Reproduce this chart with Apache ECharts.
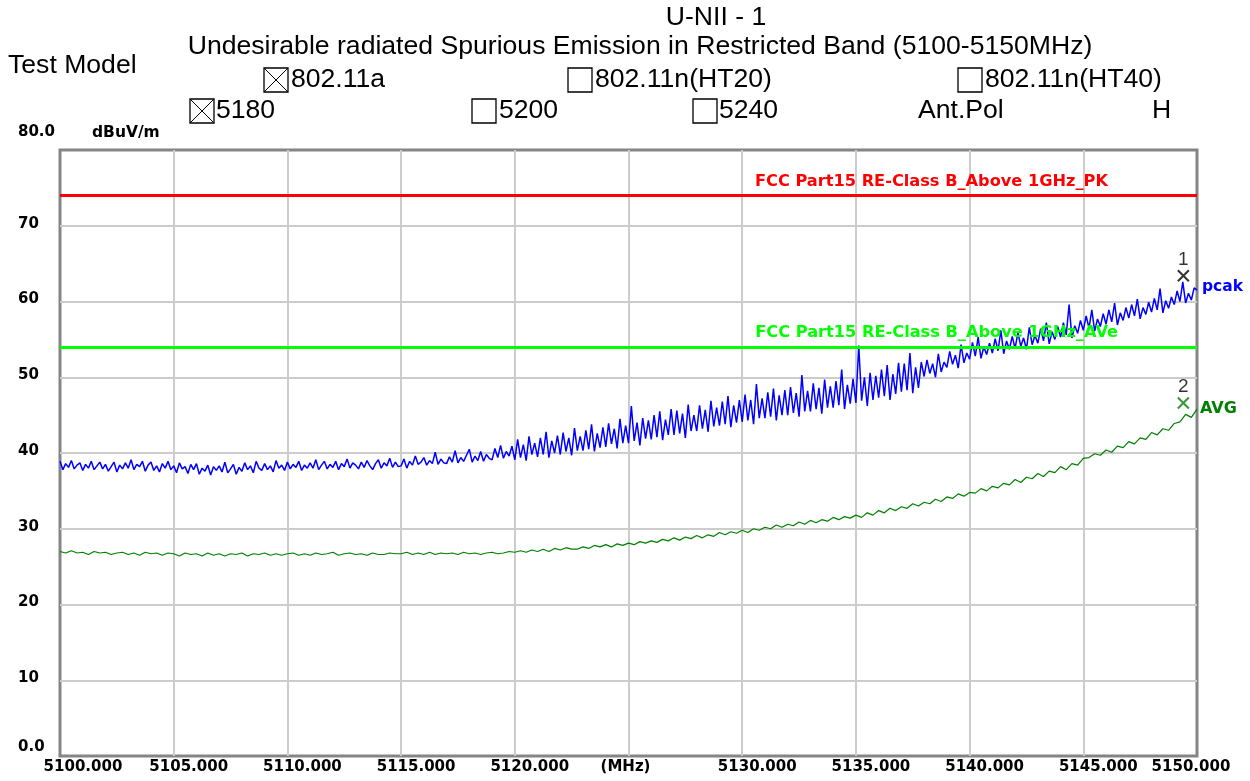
<!DOCTYPE html>
<html><head><meta charset="utf-8">
<script src="https://cdn.jsdelivr.net/npm/echarts@6/dist/echarts.min.js"></script>
<style>html,body{margin:0;padding:0;background:#fff}#c{width:1250px;height:781px}</style>
</head><body><div id="c"></div>
<script>
// ---- data ----
const titleLine1 = 'U-NII - 1';
const titleLine2 = 'Undesirable radiated Spurious Emission in Restricted Band (5100-5150MHz)';
const yUnit = 'dBuV/m';
const freqMin = 5100, freqMax = 5150, freqInterval = 5;
const levelMin = 0, levelMax = 80, levelInterval = 10;

// peak trace, one row per MHz (8 readings, 0.125 MHz apart)
const peakStart = 5100, peakStep = 0.125;
const peakValues = [
38.9,37.8,38.6,38.1,39.0,37.9,38.4,38.7,
37.7,38.5,38.0,38.9,37.8,38.3,38.8,37.9,
38.5,37.6,38.2,38.8,37.5,38.4,37.9,38.7,
38.0,39.1,37.8,38.5,38.2,38.9,37.6,38.4,
38.8,37.7,38.3,37.5,38.6,38.0,38.9,37.8,
38.3,37.4,38.7,37.9,38.2,37.3,38.5,37.8,
38.6,37.2,38.0,37.6,38.4,37.1,38.2,37.7,
38.3,37.5,38.8,37.4,37.9,38.5,37.2,38.1,
37.6,38.7,37.8,38.3,37.4,38.9,38.0,37.7,
38.6,37.8,38.3,37.5,39.0,38.0,38.4,37.7,
38.8,37.9,38.5,38.1,38.9,37.7,38.4,38.0,
38.7,38.0,39.1,37.8,38.4,38.9,37.9,38.5,
38.1,38.9,37.8,38.6,38.2,39.2,38.0,38.7,
38.4,37.9,38.8,38.1,39.0,38.3,37.8,38.6,
39.1,38.0,38.7,38.3,39.3,38.1,38.8,38.2,
38.3,39.2,38.0,38.9,38.4,39.6,38.5,38.8,
39.4,38.4,39.0,38.6,40.1,38.5,39.2,38.7,
38.6,39.5,38.8,40.3,38.7,39.4,38.9,39.7,
40.5,38.8,39.6,39.0,40.2,38.9,39.8,39.3,
39.1,40.6,39.4,41.0,39.3,40.2,39.6,40.9,
39.1,41.8,39.4,41.1,39.0,42.2,39.8,41.3,
39.5,42.0,39.8,42.8,39.4,41.6,40.0,42.3,
39.8,42.7,40.2,42.0,39.7,43.3,40.3,42.2,
40.3,43.0,40.5,43.8,40.2,42.6,40.7,43.4,
40.8,43.9,41.2,43.2,40.6,44.5,41.3,43.6,
41.3,46.2,41.6,44.0,41.0,44.6,41.9,44.3,
41.8,45.0,42.1,45.5,41.7,44.4,42.4,45.8,
42.4,45.6,42.6,45.2,42.0,46.4,42.9,45.0,
42.9,46.3,43.2,45.7,42.8,46.9,43.5,46.0,
43.6,46.8,43.8,47.5,43.4,46.3,44.0,47.0,
44.1,47.7,44.3,47.0,43.8,49.1,44.6,47.2,
44.6,48.0,44.8,48.5,44.3,47.6,45.0,48.3,
45.0,48.7,45.3,47.9,44.8,50.3,45.5,48.2,
45.5,49.2,45.8,48.6,45.2,49.7,46.0,48.8,
46.0,49.5,46.3,51.0,45.8,49.0,46.5,49.8,
46.6,54.2,46.9,50.0,46.2,50.6,47.0,50.2,
47.3,51.0,47.5,51.6,47.0,50.4,47.8,51.9,
48.1,51.8,48.3,53.2,47.9,51.3,48.6,52.0,
50.1,52.3,50.5,51.8,50.0,53.1,50.7,52.0,
51.3,53.4,51.7,52.9,51.2,54.3,51.9,53.2,
52.4,54.6,52.8,55.3,52.5,54.0,53.0,54.5,
53.2,55.1,53.5,56.2,53.1,54.8,53.7,55.4,
53.8,55.9,54.1,55.2,53.7,56.6,54.3,55.5,
54.5,56.4,54.8,57.2,54.4,56.0,55.0,56.7,
55.3,57.2,55.6,59.6,55.2,56.8,55.8,57.5,
56.2,58.1,56.5,58.9,56.1,57.7,56.7,58.4,
57.0,58.9,57.3,59.8,56.9,58.5,57.5,59.2,
57.8,59.6,58.1,60.3,57.7,59.2,58.3,59.9,
58.6,60.4,58.9,61.7,58.5,60.1,59.1,60.6,
59.6,61.4,60.0,62.6,59.8,61.1,60.2,61.8,
61.5
];

// average trace, one row per 5 MHz (20 readings, 0.25 MHz apart)
const avgStart = 5100, avgStep = 0.25;
const avgValues = [
27.0,26.8,27.1,26.8,26.9,26.6,27.0,26.8,26.9,26.6,26.8,26.9,26.6,26.8,26.5,26.9,26.7,26.8,26.5,26.8,
26.7,26.4,26.8,26.6,26.7,26.4,26.8,26.5,26.7,26.4,26.7,26.6,26.8,26.4,26.7,26.6,26.8,26.5,26.7,26.5,
26.7,26.8,26.5,26.7,26.5,26.8,26.6,26.7,26.9,26.5,26.7,26.8,26.6,26.7,26.5,26.8,26.6,26.6,26.8,26.7,
26.7,26.9,26.6,26.8,26.6,26.9,26.6,26.8,26.7,26.8,26.6,26.9,26.7,26.8,26.6,26.8,26.9,26.7,26.8,27.0,
26.9,27.1,26.9,27.2,27.0,27.3,27.0,27.4,27.2,27.5,27.3,27.3,27.6,27.4,27.8,27.6,27.9,27.6,28.0,27.8,
28.1,27.9,28.3,28.1,28.4,28.2,28.6,28.4,28.8,28.5,28.9,28.7,29.1,28.8,29.2,29.0,29.5,29.2,29.6,29.4,
29.8,29.5,30.0,29.8,30.2,30.0,30.5,30.2,30.6,30.4,30.9,30.6,31.1,30.8,31.2,31.0,31.5,31.2,31.6,31.4,
31.8,31.5,32.1,31.8,32.4,32.1,32.7,32.4,32.9,32.7,33.3,33.0,33.5,33.3,33.9,33.6,34.2,34.0,34.6,34.3,
34.8,34.7,35.3,35.0,35.6,35.4,36.0,35.8,36.5,36.1,36.8,36.6,37.3,36.9,37.6,37.4,38.2,37.8,38.6,38.4,
39.3,39.4,39.9,39.7,40.4,40.1,40.9,40.7,41.5,41.2,42.0,41.8,42.7,42.4,43.2,43.0,43.9,44.1,45.1,44.7,
45.8
];

const limitNames = ['FCC Part15 RE-Class B_Above 1GHz_PK', 'FCC Part15 RE-Class B_Above 1GHz_AVe'];
const limitValues = [74, 54];
const markerNames = ['1', '2'];
const markerFreqs = [5149.4, 5149.4];
const markerValues = [63.4, 46.6];
const traceNames = ['pcak', 'AVG'];

// ---- build ----
const peakData = peakValues.map((v, i) => [peakStart + i * peakStep, v]);
const avgData = avgValues.map((v, i) => [avgStart + i * avgStep, v]);

const HF = 'Liberation Sans, Arial, sans-serif';
const BF = 'DejaVu Sans, sans-serif';

function txt(text, x, y, align) {
  return { type: 'text', x: x, y: y, style: { text: text, font: '26.6px ' + HF, fill: '#000', textAlign: align || 'left', textVerticalAlign: 'middle' } };
}
function box(x, y, checked) {
  const els = [{ type: 'rect', shape: { x: x, y: y, width: 24, height: 24 }, style: { fill: 'none', stroke: '#000', lineWidth: 1.3 } }];
  if (checked) {
    els.push({ type: 'line', shape: { x1: x, y1: y, x2: x + 24, y2: y + 24 }, style: { stroke: '#000', lineWidth: 1 } });
    els.push({ type: 'line', shape: { x1: x + 24, y1: y, x2: x, y2: y + 24 }, style: { stroke: '#000', lineWidth: 1 } });
  }
  return els;
}

const graphics = [
  txt(titleLine1, 716, 18, 'center'),
  txt(titleLine2, 640, 47, 'center'),
  txt('Test Model', 8, 66),
  ...box(264, 68, true), txt('802.11a', 291, 80),
  ...box(568, 68, false), txt('802.11n(HT20)', 595, 80),
  ...box(958, 68, false), txt('802.11n(HT40)', 985, 80),
  ...box(190, 99, true), txt('5180', 216, 111),
  ...box(472, 99, false), txt('5200', 499, 111),
  ...box(693, 99, false), txt('5240', 719, 111),
  txt('Ant.Pol', 918, 111),
  txt('H', 1152, 111),
  { type: 'text', x: 92, y: 133, style: { text: yUnit, font: 'bold 15.5px ' + BF, fill: '#000', textAlign: 'left', textVerticalAlign: 'middle' } }
];

const chart = echarts.init(document.getElementById('c'), null, { renderer: 'canvas' });
chart.setOption({
  animation: false,
  backgroundColor: '#fff',
  graphic: graphics,
  grid: { left: 60, right: 53, top: 150, bottom: 25, show: true, borderColor: '#858585', borderWidth: 3, backgroundColor: 'transparent', z: 0 },
  xAxis: {
    type: 'value', min: freqMin, max: freqMax, interval: freqInterval,
    axisLine: { show: false }, axisTick: { show: false },
    splitLine: { show: true, showMinLine: false, showMaxLine: false, lineStyle: { color: '#cccccc', width: 2 } },
    axisLabel: {
      showMinLabel: true, showMaxLabel: true, margin: 4,
      fontFamily: BF, fontWeight: 'bold', fontSize: 15, color: '#000',
      formatter: function (v) {
        if (v === 5125) return '{m|(MHz)}';
        if (v === freqMin) return '{a|' + v.toFixed(3) + '}';
        if (v === freqMax) return '{e|' + v.toFixed(3) + '}';
        return '{n|' + v.toFixed(3) + '}';
      },
      rich: {
        n: { fontFamily: BF, fontWeight: 'bold', fontSize: 15, color: '#000', padding: [0, 0, 0, 30] },
        a: { fontFamily: BF, fontWeight: 'bold', fontSize: 15, color: '#000', padding: [0, 0, 0, 46] },
        e: { fontFamily: BF, fontWeight: 'bold', fontSize: 15, color: '#000', padding: [0, 12, 0, 0] },
        m: { fontFamily: BF, fontWeight: 'bold', fontSize: 15, color: '#000', padding: [0, 6, 0, 0] }
      }
    }
  },
  yAxis: {
    type: 'value', min: levelMin, max: levelMax, interval: levelInterval,
    axisLine: { show: false }, axisTick: { show: false },
    splitLine: { show: true, showMinLine: false, showMaxLine: false, lineStyle: { color: '#cccccc', width: 2 } },
    axisLabel: {
      showMinLabel: true, showMaxLabel: true, align: 'left', margin: 42,
      fontFamily: BF, fontWeight: 'bold', fontSize: 15, color: '#000',
      formatter: function (v) {
        if (v === levelMax) return '{t|' + v.toFixed(1) + '}';
        if (v === levelMin) return '{b|' + v.toFixed(1) + '}';
        return '{n|' + v + '}';
      },
      rich: {
        n: { fontFamily: BF, fontWeight: 'bold', fontSize: 15, color: '#000', padding: [0, 0, 4, 0] },
        t: { fontFamily: BF, fontWeight: 'bold', fontSize: 15, color: '#000', padding: [0, 0, 36, 0] },
        b: { fontFamily: BF, fontWeight: 'bold', fontSize: 15, color: '#000', padding: [0, 0, 18, 0] }
      }
    }
  },
  series: [
    {
      name: traceNames[0], type: 'line', data: peakData, showSymbol: false, symbol: 'none',
      lineStyle: { color: '#0000ff', width: 1.5 }, itemStyle: { color: '#0000ff' },
      endLabel: { show: true, formatter: traceNames[0], color: '#0000ff', fontFamily: BF, fontWeight: 'bold', fontSize: 15.5, distance: 5, offset: [0, -3] },
      z: 3
    },
    {
      name: traceNames[1], type: 'line', data: avgData, showSymbol: false, symbol: 'none',
      lineStyle: { color: '#008000', width: 1.2 }, itemStyle: { color: '#008000' },
      endLabel: { show: true, formatter: traceNames[1], color: '#008000', fontFamily: BF, fontWeight: 'bold', fontSize: 16, distance: 3 },
      z: 3,
      markLine: {
        silent: true, symbol: 'none', animation: false,
        data: [
          { yAxis: limitValues[0], lineStyle: { color: '#ff0000', width: 3, type: 'solid' },
            label: { show: true, formatter: limitNames[0], position: 'insideEndTop', distance: [89, 6], color: '#ff0000', fontFamily: BF, fontWeight: 'bold', fontSize: 16.2 } },
          { yAxis: limitValues[1], lineStyle: { color: '#00ff00', width: 3, type: 'solid' },
            label: { show: true, formatter: limitNames[1], position: 'insideEndTop', distance: [79, 6], color: '#00ff00', fontFamily: BF, fontWeight: 'bold', fontSize: 16.2 } }
        ]
      }
    },
    {
      name: 'markers', type: 'scatter', z: 5,
      symbol: 'path://M0,0L10,10M10,0L0,10', symbolSize: 11,
      data: markerNames.map((n, i) => ({
        name: n, value: [markerFreqs[i], markerValues[i]],
        itemStyle: { color: 'rgba(0,0,0,0)', borderColor: i === 0 ? '#000' : '#008000', borderWidth: 2 }
      })),
      label: { show: true, position: 'top', distance: 0, formatter: '{b}', color: '#000', fontFamily: HF, fontSize: 19 }
    }
  ]
});
</script>
</body></html>
